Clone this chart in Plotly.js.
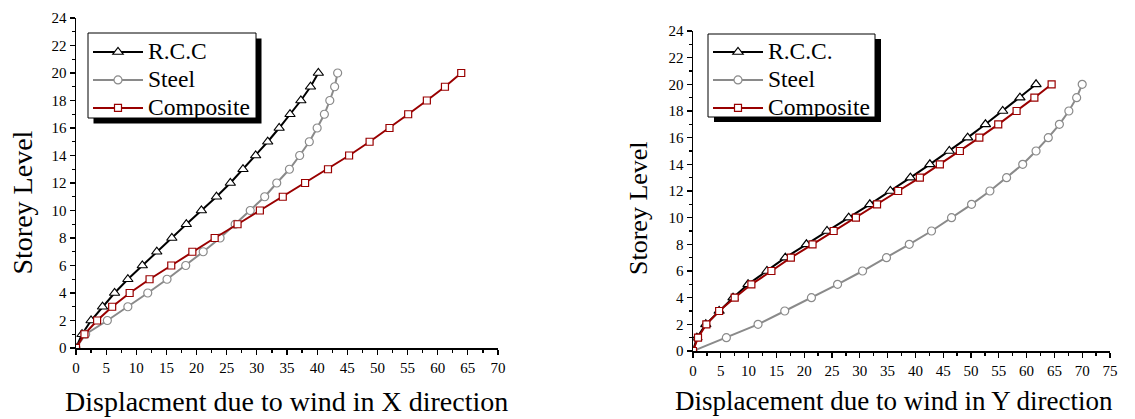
<!DOCTYPE html>
<html>
<head>
<meta charset="utf-8">
<script src="https://cdn.plot.ly/plotly-3.0.1.min.js"></script>
<style>html,body{margin:0;padding:0;background:#fff;}#chart{width:1135px;height:419px;}</style>
</head>
<body>
<div id="chart"></div>
<script>
// ---- data ----
const storeys = [0,1,2,3,4,5,6,7,8,9,10,11,12,13,14,15,16,17,18,19,20];

// Left chart: displacement due to wind in X direction
const rccX   = [0, 1.0, 2.5, 4.4, 6.4, 8.6, 11.0, 13.4, 15.9, 18.3, 20.8, 23.3, 25.6, 27.7, 29.8, 31.8, 33.7, 35.5, 37.3, 38.9, 40.2];
const steelX = [0, 1.6, 5.2, 8.6, 11.9, 15.1, 18.2, 21.1, 23.9, 26.4, 28.9, 31.3, 33.3, 35.4, 37.1, 38.7, 40.0, 41.2, 42.1, 42.9, 43.4];
const compX  = [0, 1.4, 3.5, 6.0, 8.9, 12.2, 15.8, 19.3, 23.0, 26.8, 30.5, 34.3, 38.0, 41.8, 45.3, 48.7, 52.0, 55.1, 58.2, 61.2, 63.9];

// Right chart: displacement due to wind in Y direction
const rccY   = [0, 0.7, 2.3, 4.7, 7.2, 9.9, 13.3, 16.6, 20.4, 24.1, 28.0, 31.8, 35.5, 39.1, 42.6, 46.1, 49.4, 52.6, 55.7, 58.8, 61.7];
const steelY = [0, 6.0, 11.7, 16.5, 21.3, 26.0, 30.5, 34.8, 38.9, 42.9, 46.5, 50.1, 53.4, 56.4, 59.3, 61.7, 63.9, 65.9, 67.6, 69.0, 70.0];
const compY  = [0, 0.9, 2.4, 4.7, 7.5, 10.5, 14.1, 17.6, 21.5, 25.3, 29.3, 33.1, 36.9, 40.8, 44.4, 48.0, 51.5, 54.9, 58.2, 61.4, 64.5];

const namesLeft  = ["R.C.C", "Steel", "Composite"];
const namesRight = ["R.C.C.", "Steel", "Composite"];
const xTitleLeft  = "Displacment due to wind in X direction";
const xTitleRight = "Displacement due to wind in Y direction";
const yTitle = "Storey Level";

// ---- styling ----
const W = 1135, H = 419;
const px = p => p / W;
const py = p => 1 - p / H;
const FONT = "Liberation Serif";
const BLACK = "#000000", GRAY = "#8a8a8a", RED = "#990000";

const styles = [
  {color: BLACK, symbol: "triangle-up", size: 9},
  {color: GRAY,  symbol: "circle",      size: 8},
  {color: RED,   symbol: "square",      size: 7}
];

const big = t => "<span style='font-size:23.5px'>" + t + "</span>";

function mk(x, name, i, xa, ya, lg) {
  const s = styles[i];
  return {
    type: "scatter", mode: "lines+markers", x: x, y: storeys, name: big(name),
    xaxis: xa, yaxis: ya, legend: lg,
    line: {color: s.color, width: 2},
    marker: {symbol: s.symbol, size: s.size, color: "#ffffff", line: {color: s.color, width: 1.2}}
  };
}

const traces = [
  mk(rccX,   namesLeft[0], 0, "x", "y", "legend"),
  mk(steelX, namesLeft[1], 1, "x", "y", "legend"),
  mk(compX,  namesLeft[2], 2, "x", "y", "legend"),
  mk(rccY,   namesRight[0], 0, "x2", "y2", "legend2"),
  mk(steelY, namesRight[1], 1, "x2", "y2", "legend2"),
  mk(compY,  namesRight[2], 2, "x2", "y2", "legend2")
];

function axis(opts) {
  return Object.assign({
    showgrid: false, zeroline: false, showline: true, linecolor: BLACK, linewidth: 1.5,
    ticks: "outside", ticklen: 5, tickwidth: 1.2, tickcolor: BLACK,
    tickfont: {family: FONT, size: 15, color: BLACK},
    fixedrange: true
  }, opts);
}
function mirrorAxis(opts) {
  return axis(Object.assign({ticks: "inside", showticklabels: false}, opts));
}

const xdomL = [px(76), px(498)], ydomL = [py(348), py(18)];
const xdomR = [px(693), px(1110)], ydomR = [py(351), py(31)];

function legendBox(x0, y0, x1, y1, dx, dy) {
  return [
    {type: "rect", xref: "paper", yref: "paper", x0: px(x0 + dx), x1: px(x1 + dx), y0: py(y1 + dy), y1: py(y0 + dy),
      fillcolor: BLACK, line: {width: 0}, layer: "above"},
    {type: "rect", xref: "paper", yref: "paper", x0: px(x0), x1: px(x1), y0: py(y1), y1: py(y0),
      fillcolor: "#ffffff", line: {color: BLACK, width: 1}, layer: "above"}
  ];
}

const legendCommon = {xanchor: "left", yanchor: "top", bgcolor: "rgba(0,0,0,0)", borderwidth: 0,
  font: {family: FONT, size: 19.2, color: BLACK}, itemwidth: 50, tracegroupgap: 0};

const layout = {
  width: W, height: H,
  margin: {l: 0, r: 0, t: 0, b: 0},
  paper_bgcolor: "#ffffff", plot_bgcolor: "#ffffff",
  showlegend: true,
  xaxis: axis({domain: xdomL, range: [0, 70], dtick: 5, tick0: 0, anchor: "y",
    minor: {dtick: 2.5, ticks: "outside", ticklen: 3, tickcolor: BLACK}}),
  yaxis: axis({domain: ydomL, range: [0, 24], dtick: 2, tick0: 0, anchor: "x",
    minor: {dtick: 1, ticks: "outside", ticklen: 3, tickcolor: BLACK}}),
  xaxis3: mirrorAxis({overlaying: "x", side: "top", anchor: "y", range: [0, 70], dtick: 5,
    minor: {dtick: 2.5, ticks: "inside", ticklen: 3, tickcolor: BLACK}}),
  yaxis3: mirrorAxis({overlaying: "y", side: "right", anchor: "x", range: [0, 24], dtick: 2,
    minor: {dtick: 1, ticks: "inside", ticklen: 3, tickcolor: BLACK}}),

  xaxis2: axis({domain: xdomR, range: [0, 75], dtick: 5, tick0: 0, anchor: "y2",
    minor: {dtick: 2.5, ticks: "outside", ticklen: 3, tickcolor: BLACK}}),
  yaxis2: axis({domain: ydomR, range: [0, 24], dtick: 2, tick0: 0, anchor: "x2",
    minor: {dtick: 1, ticks: "outside", ticklen: 3, tickcolor: BLACK}}),
  xaxis4: mirrorAxis({overlaying: "x2", side: "top", anchor: "y2", range: [0, 75], dtick: 5,
    minor: {dtick: 2.5, ticks: "inside", ticklen: 3, tickcolor: BLACK}}),
  yaxis4: mirrorAxis({overlaying: "y2", side: "right", anchor: "x2", range: [0, 24], dtick: 2,
    minor: {dtick: 1, ticks: "inside", ticklen: 3, tickcolor: BLACK}}),

  legend: Object.assign({x: px(88), y: py(33)}, legendCommon),
  legend2: Object.assign({x: px(708), y: py(33)}, legendCommon),

  annotations: [
    {xref: "paper", yref: "paper", x: px(22.5), y: py(203), text: yTitle, textangle: -90,
      showarrow: false, xanchor: "center", yanchor: "middle", font: {family: FONT, size: 28, color: BLACK}},
    {xref: "paper", yref: "paper", x: px(638), y: py(208), text: yTitle, textangle: -90,
      showarrow: false, xanchor: "center", yanchor: "middle", font: {family: FONT, size: 26, color: BLACK}},
    {xref: "paper", yref: "paper", x: px(286.5), y: py(401), text: xTitleLeft,
      showarrow: false, xanchor: "center", yanchor: "middle", font: {family: FONT, size: 28, color: BLACK}},
    {xref: "paper", yref: "paper", x: px(893.5), y: py(401), text: xTitleRight,
      showarrow: false, xanchor: "center", yanchor: "middle", font: {family: FONT, size: 27, color: BLACK}}
  ],
  shapes: [].concat(
    legendBox(88, 33, 256, 118, 5.5, 5.5),
    legendBox(708, 34, 875, 117, 6, 5)
  )
};

Plotly.newPlot("chart", traces, layout, {displayModeBar: false, staticPlot: true});
</script>
</body>
</html>
